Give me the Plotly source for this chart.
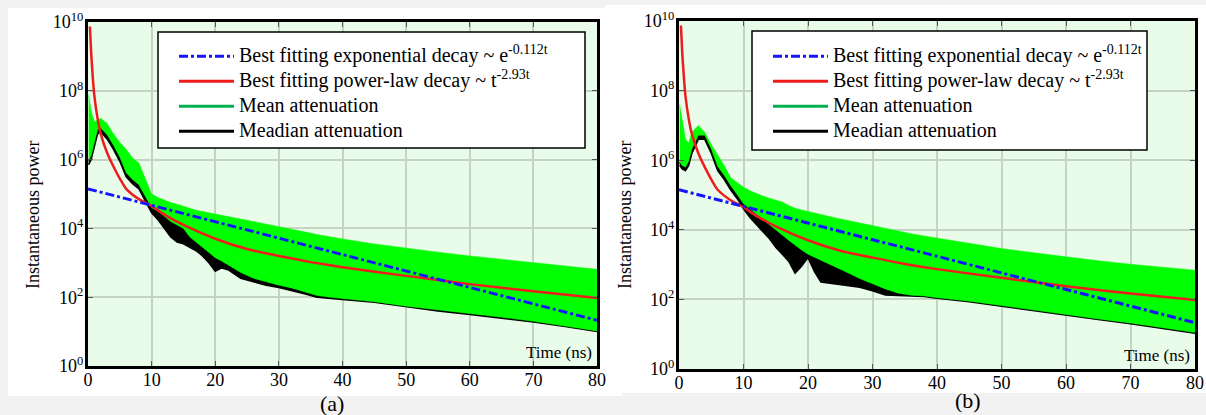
import numpy as np
import plotly.graph_objects as go

# ---------------- data (log10 of instantaneous power) ----------------
t_band = [0.1, 0.5, 1, 1.5, 2, 3, 4, 5, 6, 7, 8, 9, 10, 11, 12, 13, 14, 15, 16, 17, 18, 19,
          20, 21, 22, 24, 26, 28, 30, 32, 34, 36, 38, 40, 45, 50, 55, 60, 65, 70, 75, 80]

a_mean_hi = [7.9, 7.4, 7.1, 7.15, 7.2, 7.05, 6.75, 6.5, 6.3, 6.05, 5.9, 5.45, 5.0, 4.9, 4.82, 4.75,
             4.7, 4.64, 4.58, 4.53, 4.49, 4.45, 4.41, 4.38, 4.34, 4.27, 4.20, 4.13, 4.05, 3.98,
             3.90, 3.82, 3.75, 3.69, 3.55, 3.42, 3.31, 3.20, 3.10, 3.00, 2.90, 2.81]
a_mean_lo = [5.97, 6.12, 6.52, 6.87, 6.92, 6.72, 6.42, 6.07, 5.62, 5.42, 5.27, 4.92, 4.6, 4.5, 4.35, 4.2,
             4.1, 4.0, 3.75, 3.6, 3.45, 3.3, 3.15, 3.05, 2.95, 2.72, 2.55, 2.45, 2.35, 2.27, 2.17,
             2.05, 2.0, 1.95, 1.87, 1.74, 1.62, 1.52, 1.42, 1.3, 1.17, 1.02]
a_median_lo = [5.85, 6.0, 6.4, 6.75, 6.8, 6.6, 6.3, 5.95, 5.5, 5.3, 5.15, 4.8, 4.45, 4.25, 4.0, 3.75,
               3.6, 3.55, 3.45, 3.35, 3.2, 3.0, 2.75, 2.85, 2.8, 2.55, 2.45, 2.35, 2.28, 2.2, 2.1,
               2.0, 1.97, 1.93, 1.85, 1.72, 1.6, 1.5, 1.4, 1.28, 1.15, 1.0]

b_mean_hi = [7.6, 7.2, 6.6, 6.5, 6.8, 7.0, 6.8, 6.45, 6.15, 5.85, 5.5, 5.35, 5.22, 5.12, 5.04, 4.97,
             4.91, 4.86, 4.8, 4.7, 4.62, 4.57, 4.52, 4.48, 4.44, 4.35, 4.27, 4.19, 4.11, 4.03, 3.96,
             3.89, 3.82, 3.76, 3.6, 3.46, 3.34, 3.22, 3.11, 3.01, 2.92, 2.84]
b_mean_lo = [5.95, 5.85, 5.8, 5.97, 6.32, 6.72, 6.72, 6.32, 5.82, 5.57, 5.27, 5.02, 4.75, 4.6, 4.45, 4.3,
             4.15, 4.0, 3.85, 3.7, 3.55, 3.42, 3.3, 3.2, 3.12, 2.95, 2.78, 2.6, 2.45, 2.3, 2.18,
             2.12, 2.1, 2.05, 1.95, 1.82, 1.69, 1.57, 1.44, 1.32, 1.19, 1.05]
b_median_lo = [5.85, 5.75, 5.7, 5.85, 6.2, 6.6, 6.6, 6.2, 5.7, 5.45, 5.15, 4.9, 4.6, 4.35, 4.15, 3.95,
               3.75, 3.5, 3.3, 3.1, 2.75, 2.95, 3.2, 2.8, 2.5, 2.45, 2.4, 2.35, 2.25, 2.13, 2.12,
               2.1, 2.08, 2.03, 1.93, 1.8, 1.67, 1.55, 1.42, 1.3, 1.17, 1.03]

t_pow = [0.3, 0.5, 0.75, 1, 1.5, 2, 3, 4, 5, 6, 8, 10, 12, 15, 20, 25, 30, 35, 40, 50, 60, 70, 80]
pow_fit = [9.87, 9.1, 8.4, 7.85, 7.2, 6.75, 6.2, 5.8, 5.45, 5.15, 4.85, 4.65, 4.4, 4.1, 3.7, 3.4,
           3.2, 3.02, 2.87, 2.62, 2.38, 2.17, 1.98]

t_exp = [0, 80]
exp_fit = [5.15, 1.33]

x_ticks = [0, 10, 20, 30, 40, 50, 60, 70, 80]
y_tick_exps = [0, 2, 4, 6, 8, 10]

legend_names = ["Best fitting exponential decay ~ e<sup>-0.112t</sup>",
                "Best fitting power-law decay ~ t<sup>-2.93t</sup>",
                "Mean attenuation",
                "Meadian attenuation"]

# ---------------- figure ----------------
W, H = 1206, 415
FONT = "Times New Roman, Liberation Serif, DejaVu Serif, serif"
BLUE, RED, GREEN_FILL, GREEN_LEG, BLACK = "#1414ff", "#ee1c1c", "#00ff00", "#00b050", "#000000"
BG = "#e9fcea"


def p(v):
    return list(10 ** np.array(v, dtype=float))


fig = go.Figure()

panels = [
    dict(xa="x", ya="y", leg="legend", hi=a_mean_hi, lo=a_mean_lo, med=a_median_lo),
    dict(xa="x2", ya="y2", leg="legend2", hi=b_mean_hi, lo=b_mean_lo, med=b_median_lo),
]

for pn in panels:
    xa, ya = pn["xa"], pn["ya"]
    fig.add_trace(go.Scatter(x=t_band + t_band[::-1], y=p(pn["lo"]) + p(pn["med"])[::-1],
                             xaxis=xa, yaxis=ya, mode="lines", fill="toself",
                             fillcolor=BLACK, line=dict(color=BLACK, width=1.5),
                             showlegend=False, hoverinfo="skip"))
    fig.add_trace(go.Scatter(x=t_band + t_band[::-1], y=p(pn["hi"]) + p(pn["lo"])[::-1],
                             xaxis=xa, yaxis=ya, mode="lines", fill="toself",
                             fillcolor=GREEN_FILL, line=dict(color=GREEN_FILL, width=0.5),
                             showlegend=False, hoverinfo="skip"))
    fig.add_trace(go.Scatter(x=t_pow, y=p(pow_fit), xaxis=xa, yaxis=ya, mode="lines",
                             line=dict(color=RED, width=2.5, shape="spline", smoothing=0.6),
                             showlegend=False))
    fig.add_trace(go.Scatter(x=t_exp, y=p(exp_fit), xaxis=xa, yaxis=ya, mode="lines",
                             line=dict(color=BLUE, width=3, dash="dashdot"),
                             showlegend=False))
    for i, (nm, col, dash) in enumerate(zip(legend_names,
                                            [BLUE, RED, GREEN_LEG, BLACK],
                                            ["dashdot", "solid", "solid", "solid"])):
        fig.add_trace(go.Scatter(x=[None], y=[None], xaxis=xa, yaxis=ya, mode="lines",
                                 name=f'<span style="font-size:20px">{nm}</span>',
                                 line=dict(color=col, width=3, dash=dash),
                                 legend=pn["leg"], legendgroup=f"{pn['leg']}_{i}",
                                 showlegend=True))

A = dict(x0=88, x1=597, y0=22, y1=366)
B = dict(x0=679, x1=1195, y0=21, y1=369)


def dom_x(g):
    return [g["x0"] / W, g["x1"] / W]


def dom_y(g):
    return [1 - g["y1"] / H, 1 - g["y0"] / H]


ax_common = dict(range=[0, 80], tickvals=x_ticks, ticks="inside", ticklen=5, tickwidth=1.2,
                 tickcolor="#555555", mirror="allticks", showline=True, linecolor="black",
                 linewidth=3, showgrid=True, gridcolor="#c4d4c4", gridwidth=1.5,
                 zeroline=False, ticklabelstandoff=-5, automargin=False,
                 tickfont=dict(family=FONT, size=18, color="black"))
ay_common = dict(type="log", range=[0, 10], tickvals=[10 ** e for e in y_tick_exps],
                 ticktext=[f"10<sup>{e}</sup>" for e in y_tick_exps],
                 ticks="inside", ticklen=5, tickwidth=1.2, tickcolor="#555555",
                 mirror="allticks", showline=True, linecolor="black", linewidth=3,
                 showgrid=True, gridcolor="#c4d4c4", gridwidth=1.5, zeroline=False,
                 ticklabelstandoff=-2, automargin=False,
                 tickfont=dict(family=FONT, size=18, color="black"))

leg_common = dict(xanchor="left", yanchor="top", bgcolor="rgba(0,0,0,0)", borderwidth=0,
                  tracegroupgap=2.5, itemwidth=55,
                  font=dict(family=FONT, size=15, color="black"))

fig.update_layout(
    width=W, height=H, margin=dict(l=0, r=0, t=0, b=0, autoexpand=False),
    paper_bgcolor="#f2f2f2", plot_bgcolor="rgba(0,0,0,0)",
    xaxis=dict(domain=dom_x(A), anchor="y", **ax_common),
    yaxis=dict(domain=dom_y(A), anchor="x", **ay_common),
    xaxis2=dict(domain=dom_x(B), anchor="y2", **ax_common),
    yaxis2=dict(domain=dom_y(B), anchor="x2", **ay_common),
    legend=dict(x=174 / W, y=1 - 40 / H, **leg_common),
    legend2=dict(x=768 / W, y=1 - 40 / H, **leg_common),
    showlegend=True,
)

shapes = []
shapes.append(dict(type="rect", xref="paper", yref="paper", x0=8 / W, x1=622 / W,
                   y0=1 - 396 / H, y1=1 - 8 / H, fillcolor="white", line=dict(width=0),
                   layer="below"))
shapes.append(dict(type="rect", xref="paper", yref="paper", x0=605 / W, x1=1,
                   y0=1 - 393 / H, y1=1 - 5 / H, fillcolor="white", line=dict(width=0),
                   layer="below"))
for g in (A, B):
    shapes.append(dict(type="rect", xref="paper", yref="paper", x0=g["x0"] / W, x1=g["x1"] / W,
                       y0=1 - g["y1"] / H, y1=1 - g["y0"] / H, fillcolor=BG,
                       line=dict(width=0), layer="below"))
shapes.append(dict(type="rect", xref="paper", yref="paper", x0=158 / W, x1=585 / W,
                   y0=1 - 148 / H, y1=1 - 32 / H, fillcolor="white",
                   line=dict(color="black", width=1.5), layer="above"))
shapes.append(dict(type="rect", xref="paper", yref="paper", x0=752 / W, x1=1147 / W,
                   y0=1 - 150 / H, y1=1 - 31 / H, fillcolor="white",
                   line=dict(color="black", width=1.5), layer="above"))
fig.update_layout(shapes=shapes)

ann = []
for xr, yr in (("x domain", "y domain"), ("x2 domain", "y2 domain")):
    ann.append(dict(text="Time (ns)", xref=xr, yref=yr, x=0.995, y=0.005, xanchor="right",
                    yanchor="bottom", showarrow=False,
                    font=dict(family=FONT, size=17, color="black")))
for xpix in (33, 625):
    ann.append(dict(text="Instantaneous power", xref="paper", yref="paper", x=xpix / W,
                    y=1 - 215 / H, xanchor="center", yanchor="middle", textangle=-90,
                    showarrow=False, font=dict(family=FONT, size=18, color="black")))
ann.append(dict(text="(a)", xref="paper", yref="paper", x=332 / W, y=1 - 403 / H,
                xanchor="center", yanchor="middle",
                showarrow=False, font=dict(family=FONT, size=22, color="black")))
ann.append(dict(text="(b)", xref="paper", yref="paper", x=968 / W, y=1 - 400 / H,
                xanchor="center", yanchor="middle",
                showarrow=False, font=dict(family=FONT, size=22, color="black")))
fig.update_layout(annotations=ann)

fig.write_html("out.html", config={"displayModeBar": False},
               post_script="document.body.style.margin='0';document.body.style.overflow='hidden';"
                           "document.body.style.background='#f2f2f2';")
